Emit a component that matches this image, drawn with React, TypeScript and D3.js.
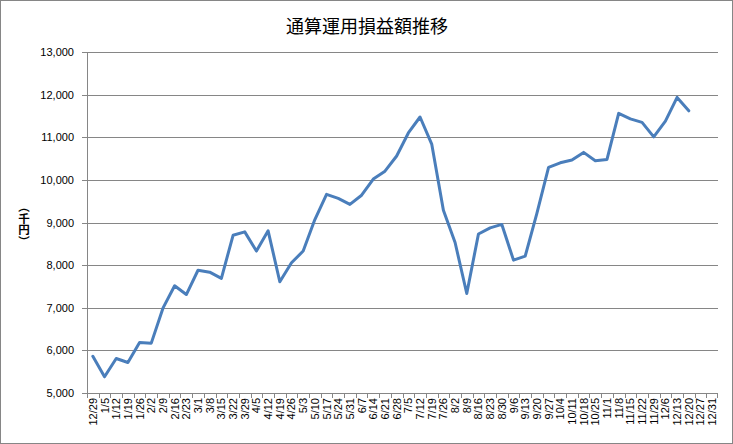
import React from "react";
import * as d3 from "d3";

const categories = ["12/29","1/5","1/12","1/19","1/26","2/2","2/9","2/16","2/23","3/1","3/8","3/15","3/22","3/29","4/5","4/12","4/19","4/26","5/3","5/10","5/17","5/24","5/31","6/7","6/14","6/21","6/28","7/5","7/12","7/19","7/26","8/2","8/9","8/16","8/23","8/30","9/6","9/13","9/20","9/27","10/4","10/11","10/18","10/25","11/1","11/8","11/15","11/22","11/29","12/6","12/13","12/20","12/27","12/31"];

const values = [5860,5380,5810,5715,6185,6170,6990,7515,7310,7880,7835,7690,8700,8780,8330,8805,7610,8055,8330,9070,9660,9565,9425,9640,10020,10205,10560,11100,11475,10840,9290,8530,7335,8730,8875,8955,8117,8210,9215,10295,10400,10465,10645,10450,10480,11560,11430,11350,11010,11380,11935,11620];

const yTicks = [5000,6000,7000,8000,9000,10000,11000,12000,13000];

const title = "通算運用損益額推移";
const yLabel = "（千円）";

export default function App() {
  const W = 733, H = 444;
  const left = 87, right = 718, top = 52, bottom = 393;
  const x = d3.scaleBand<string>().domain(categories).range([left, right]).padding(0);
  const y = d3.scaleLinear().domain([5000, 13000]).range([bottom, top]);
  const line = d3.line<number>()
    .x((_, i) => (x(categories[i]) as number) + x.bandwidth() / 2)
    .y((d) => y(d));
  const axisColor = "#868686";
  const font = "'Liberation Sans', Arial, sans-serif";
  const cjk = "'Noto Sans CJK JP', sans-serif";
  return (
    <div style={{ position: "absolute", left: 0, top: 0 }}>
      <svg width={W} height={H} style={{ display: "block", background: "#fff" }}>
        <rect x={0.5} y={0.5} width={W - 1} height={H - 1} fill="#fff" stroke={axisColor} strokeWidth={1} />
        <text x={367} y={33} textAnchor="middle" fontFamily={cjk} fontSize={18} fill="#000">{title}</text>
        {yTicks.map((t) => (
          <g key={t}>
            <line x1={left} x2={right} y1={Math.round(y(t)) + 0.5} y2={Math.round(y(t)) + 0.5} stroke={axisColor} strokeWidth={1} />
            <line x1={left - 5} x2={left} y1={Math.round(y(t)) + 0.5} y2={Math.round(y(t)) + 0.5} stroke={axisColor} strokeWidth={1} />
            <text x={74} y={y(t) + 4} textAnchor="end" fontFamily={font} fontSize={11} fill="#000">{d3.format(",")(t)}</text>
          </g>
        ))}
        <line x1={left + 0.5} x2={left + 0.5} y1={top} y2={bottom} stroke={axisColor} strokeWidth={1} />
        {categories.map((c) => {
          const bx = Math.round(x(c) as number) + 0.5;
          const cx = (x(c) as number) + x.bandwidth() / 2;
          return (
            <g key={c}>
              <line x1={bx} x2={bx} y1={bottom} y2={bottom + 5} stroke={axisColor} strokeWidth={1} />
              <text transform={`translate(${cx + 4},${398}) rotate(-90)`} textAnchor="end" fontFamily={font} fontSize={11} fill="#000">{c}</text>
            </g>
          );
        })}
        <line x1={right - 0.5} x2={right - 0.5} y1={bottom} y2={bottom + 5} stroke={axisColor} strokeWidth={1} />
        <text x={24} y={201} style={{ writingMode: "vertical-rl" }} fontFamily={cjk} fontSize={11.5} fontWeight="bold" fill="#000">{yLabel}</text>
        <line x1={left} x2={right} y1={bottom + 0.5} y2={bottom + 0.5} stroke={axisColor} strokeWidth={1} />
        <path d={line(values) || ""} fill="none" stroke="#4A7EBB" strokeWidth={3} strokeLinejoin="round" strokeLinecap="round" />
      </svg>
    </div>
  );
}
